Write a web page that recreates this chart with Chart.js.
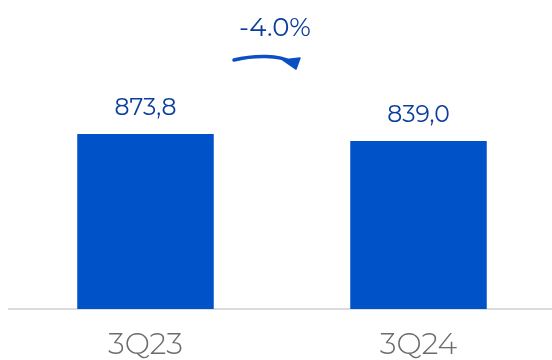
<!DOCTYPE html>
<html>
<head>
<meta charset="utf-8">
<script src="https://cdn.jsdelivr.net/npm/chart.js@4.4.1/dist/chart.umd.min.js"></script>
<style>
  html, body { margin: 0; padding: 0; background: #fff; overflow: hidden; }
  #wrap { position: relative; width: 555px; height: 360px; }
</style>
</head>
<body>
<div id="wrap"><canvas id="revChart"></canvas></div>
<script>
const quarters = ['3Q23', '3Q24'];
const revenue = [873.8, 839.0];
const changeLabel = '-4.0%';

const fmt = v => v.toFixed(1).replace('.', ',');

// value labels above each bar + the change arrow between them
const barLabels = {
  id: 'barLabels',
  afterDatasetsDraw(chart) {
    const ctx = chart.ctx;
    const meta = chart.getDatasetMeta(0);
    ctx.save();
    ctx.fillStyle = '#0b3d9e';
    ctx.font = '400 23.5px Montserrat, "Open Sans", sans-serif';
    ctx.textAlign = 'center';
    ctx.textBaseline = 'middle';
    meta.data.forEach((bar, i) => {
      ctx.fillText(fmt(revenue[i]), bar.x, bar.y - 26);
    });

    const a = meta.data[0], b = meta.data[1];
    const mid = (a.x + b.x) / 2;
    const top = Math.min(a.y, b.y);
    ctx.font = '400 26px Montserrat, "Open Sans", sans-serif';
    ctx.fillText(changeLabel, mid - 7, top - 106);

    // hand-drawn style arrow
    const y0 = top - 74;
    ctx.strokeStyle = '#0a4fc4';
    ctx.fillStyle = '#0a4fc4';
    ctx.lineCap = 'round';
    ctx.lineJoin = 'round';
    ctx.lineWidth = 3.5;
    ctx.beginPath();
    ctx.moveTo(mid - 48, y0);
    ctx.bezierCurveTo(mid - 28, y0 - 5, mid - 2, y0 - 5, mid + 9, y0 + 2);
    ctx.stroke();
    ctx.lineWidth = 1.5;
    ctx.beginPath();
    ctx.moveTo(mid + 1, y0);
    ctx.lineTo(mid + 18, y0 - 2);
    ctx.lineTo(mid + 14, y0 + 9);
    ctx.closePath();
    ctx.fill();
    ctx.stroke();
    ctx.restore();
  }
};

new Chart(document.getElementById('revChart'), {
  type: 'bar',
  data: {
    labels: quarters,
    datasets: [{
      data: revenue,
      backgroundColor: '#0052c9',
      borderWidth: 0,
      barPercentage: 0.5,
      categoryPercentage: 1
    }]
  },
  options: {
    responsive: true,
    maintainAspectRatio: false,
    animation: false,
    layout: { padding: { left: 9, right: 0, top: 0, bottom: 0 } },
    plugins: {
      legend: { display: false },
      tooltip: { enabled: false }
    },
    scales: {
      x: {
        grid: { display: false, drawTicks: false },
        border: { display: true, color: '#dcdcdc', width: 2 },
        ticks: {
          color: '#6b6b6b',
          padding: 18,
          font: { family: 'Montserrat, Lato, "Open Sans", sans-serif', size: 30, weight: '300' }
        },
        afterFit(scale) { scale.height = 51; }
      },
      y: {
        display: false,
        min: 0,
        max: 1543
      }
    }
  },
  plugins: [barLabels]
});
</script>
</body>
</html>
